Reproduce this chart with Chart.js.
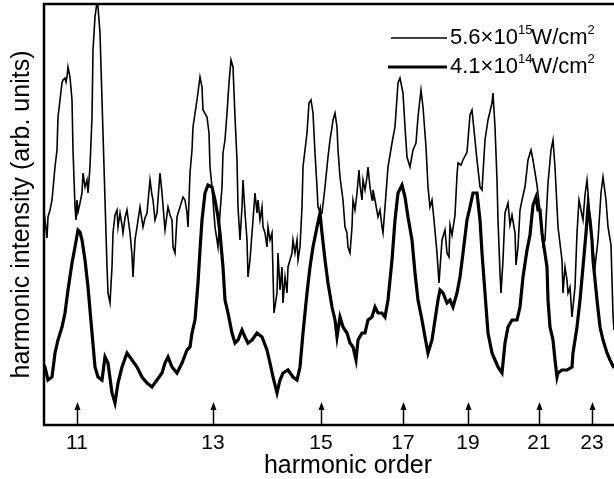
<!DOCTYPE html>
<html lang="en">
<head>
    <meta charset="UTF-8">
    <title>Harmonic spectra</title>
    <script src="https://cdn.jsdelivr.net/npm/chart.js"></script>
    <style>
        html, body {
            margin: 0;
            padding: 0;
            overflow: hidden;
            background: #fff;
        }
        #wrap {
            width: 660px;
            height: 479px;
        }
    </style>
</head>
<body>
    <div id="wrap">
        <canvas id="hhgChart" width="660" height="479"></canvas>
    </div>

    <script>
        // harmonic markers (position along the spectrometer axis, arb. units)
        const harmonicPos = [33, 169, 277, 359, 424, 495, 548];
        const harmonicLabels = ["11", "13", "15", "17", "19", "21", "23"];

        // 5.6x10^15 W/cm^2 (thin trace)
        const highX = [0,1,3,4,6,8,11,13,14,16,18,19,21,22,23,24,26,28,29,31,32,33,34,36,38,39,41,43,44,46,48,49,51,53,54,56,58,61,63,64,66,68,69,71,73,74,76,78,79,81,83,86,88,89,91,93,96,99,101,103,106,108,109,111,113,116,118,121,124,126,128,129,131,133,136,139,141,143,144,146,148,149,153,156,158,159,163,165,166,168,171,174,176,178,179,181,183,185,187,189,191,193,194,196,198,199,201,203,204,206,208,211,213,214,216,218,219,221,223,224,226,228,230,233,234,236,238,239,241,243,244,246,248,249,251,253,254,256,258,259,263,265,267,269,271,273,274,276,278,281,283,284,286,288,289,291,293,294,296,299,301,303,304,306,308,309,311,313,315,316,318,319,321,323,324,326,328,329,331,334,336,338,339,341,344,348,351,354,356,359,361,363,366,369,372,374,377,379,382,384,386,388,390,393,395,398,401,403,405,406,408,411,413,414,417,419,423,426,428,430,433,436,438,441,444,448,449,451,453,454,456,457,459,461,464,466,468,471,472,474,476,478,481,484,487,489,493,496,499,501,504,507,509,511,514,518,519,521,523,524,526,528,531,533,535,538,539,541,543,545,548,551,554,557,559,562,564,567,569,570];
        const highY = [200,205,187,208,215,225,258,275,308,325,342,345,347,343,348,358,348,325,275,218,205,225,213,222,232,252,238,245,232,258,308,375,408,423,418,392,325,225,158,132,122,158,192,210,215,198,212,200,192,207,215,192,170,148,185,198,218,198,207,212,245,230,225,205,212,252,232,195,218,210,205,178,172,208,218,228,225,212,198,252,275,298,325,348,338,315,308,292,258,238,198,178,212,238,272,285,312,342,365,358,308,265,218,185,218,245,212,185,148,165,192,232,212,225,205,218,198,192,178,198,185,192,112,132,172,135,158,122,148,132,158,165,172,185,172,185,165,178,218,258,292,322,325,312,272,238,218,213,212,238,258,268,285,298,305,312,298,275,248,225,198,192,178,172,198,225,215,232,255,240,225,245,235,248,258,238,225,235,225,208,215,198,192,218,258,282,298,342,347,332,298,268,258,275,282,308,335,318,278,238,218,225,205,172,142,185,195,172,168,200,190,210,250,262,260,265,273,310,315,295,265,238,235,285,305,322,332,298,245,205,152,132,165,212,222,200,210,192,160,178,215,225,238,265,275,265,240,215,180,185,242,275,285,258,198,165,132,158,145,132,138,108,138,192,225,210,205,230,245,220,185,158,185,232,248,225,198,180,110,95];

        // 4.1x10^14 W/cm^2 (thick trace)
        const lowX = [0,1,4,8,11,14,18,21,24,28,31,34,36,38,41,44,48,51,54,58,61,64,68,71,74,78,83,88,93,98,103,108,113,118,121,124,128,133,138,143,146,148,151,154,156,158,161,164,168,171,174,176,179,181,184,188,191,194,198,201,204,208,213,218,223,226,229,233,236,239,244,249,253,256,259,263,266,269,273,276,278,281,284,288,291,293,296,299,303,306,309,312,314,318,321,324,328,331,334,338,341,344,348,351,354,358,361,364,368,371,374,378,381,384,388,391,394,396,399,403,406,409,413,416,419,423,426,429,433,436,438,441,444,448,451,454,458,461,464,468,473,476,479,483,486,489,492,494,496,498,500,503,504,506,509,511,513,514,518,523,528,529,533,536,539,542,544,546,548,549,553,556,559,563,566,570];
        const lowY = [60,58,45,48,72,85,98,112,135,162,178,195,193,185,165,138,92,58,48,45,68,62,32,22,42,58,72,65,58,48,42,38,45,52,62,68,58,52,62,75,78,92,105,142,175,205,232,240,238,225,208,192,158,125,112,92,82,85,95,88,82,85,92,88,75,62,48,32,45,52,55,48,45,58,92,132,158,178,198,212,192,165,142,118,105,88,108,98,92,82,78,65,85,92,92,105,108,118,112,112,108,125,165,205,232,240,228,208,185,152,125,105,88,72,85,105,125,135,132,122,125,118,132,148,172,205,218,232,232,205,172,132,92,72,65,58,52,82,98,105,105,118,148,175,190,220,228,215,215,192,178,158,125,98,85,65,48,52,55,55,58,72,98,125,158,192,218,205,185,165,125,98,85,72,65,57];

        const toPoints = (xs, ys) => xs.map((x, i) => ({ x: x, y: ys[i] }));

        const framePlugin = {
            id: "frame",
            afterDatasetsDraw(chart) {
                const { ctx, chartArea } = chart;
                const xs = chart.scales.x;
                ctx.save();
                ctx.strokeStyle = "#000";
                ctx.lineWidth = 2.5;
                ctx.strokeRect(chartArea.left, chartArea.top, chartArea.right - chartArea.left, chartArea.bottom - chartArea.top);

                // small arrows marking the harmonic positions
                ctx.lineWidth = 1.5;
                ctx.fillStyle = "#000";
                harmonicPos.forEach(v => {
                    const px = Math.round(xs.getPixelForValue(v)) + 0.5;
                    ctx.beginPath();
                    ctx.moveTo(px, chartArea.bottom);
                    ctx.lineTo(px, chartArea.bottom - 17);
                    ctx.stroke();
                    ctx.beginPath();
                    ctx.moveTo(px, chartArea.bottom - 23);
                    ctx.lineTo(px - 3, chartArea.bottom - 15);
                    ctx.lineTo(px + 3, chartArea.bottom - 15);
                    ctx.closePath();
                    ctx.fill();
                });
                ctx.restore();
            }
        };

        const legendPlugin = {
            id: "customLegend",
            afterDraw(chart) {
                const ctx = chart.ctx;
                const entries = [
                    { base: "5.6\u00d710", exp: "15", width: 1.5, y: 38, x0: 391 },
                    { base: "4.1\u00d710", exp: "14", width: 3, y: 67, x0: 388 }
                ];
                ctx.save();
                ctx.fillStyle = "#000";
                ctx.strokeStyle = "#000";
                entries.forEach(e => {
                    ctx.lineWidth = e.width;
                    ctx.beginPath();
                    ctx.moveTo(e.x0, e.y);
                    ctx.lineTo(447, e.y);
                    ctx.stroke();

                    let x = 450;
                    ctx.textBaseline = "middle";
                    ctx.font = "22px 'Liberation Sans', Arial, sans-serif";
                    ctx.fillText(e.base, x, e.y);
                    x += ctx.measureText(e.base).width;
                    ctx.font = "13px 'Liberation Sans', Arial, sans-serif";
                    ctx.fillText(e.exp, x, e.y - 8);
                    x += ctx.measureText(e.exp).width - 1;
                    ctx.font = "22px 'Liberation Sans', Arial, sans-serif";
                    ctx.fillText("W/cm", x, e.y);
                    x += ctx.measureText("W/cm").width;
                    ctx.font = "13px 'Liberation Sans', Arial, sans-serif";
                    ctx.fillText("2", x, e.y - 8);
                });
                ctx.restore();
            }
        };

        Chart.defaults.font.family = "'Liberation Sans', Arial, sans-serif";
        Chart.defaults.color = "#000";

        const chart = new Chart(document.getElementById("hhgChart"), {
            type: "line",
            data: {
                datasets: [
                    {
                        label: "5.6\u00d710\u00b9\u2075W/cm\u00b2",
                        data: toPoints(highX, highY),
                        borderColor: "#000",
                        borderWidth: 1.6,
                        pointRadius: 0,
                        tension: 0,
                        fill: false
                    },
                    {
                        label: "4.1\u00d710\u00b9\u2074W/cm\u00b2",
                        data: toPoints(lowX, lowY),
                        borderColor: "#000",
                        borderWidth: 3.2,
                        pointRadius: 0,
                        tension: 0,
                        fill: false
                    }
                ]
            },
            options: {
                responsive: false,
                animation: false,
                layout: { padding: { top: 4, right: 8, left: 0, bottom: 0 } },
                plugins: {
                    legend: { display: false },
                    tooltip: { enabled: false }
                },
                scales: {
                    x: {
                        type: "linear",
                        min: 0,
                        max: 608,
                        grid: { display: false, drawTicks: false },
                        border: { display: false },
                        afterBuildTicks: scale => {
                            scale.ticks = harmonicPos.map(v => ({ value: v }));
                        },
                        afterFit: scale => { scale.height = 54; },
                        ticks: {
                            autoSkip: false,
                            maxRotation: 0,
                            padding: 6,
                            font: { size: 21 },
                            callback: (value, index) => harmonicLabels[index]
                        },
                        title: {
                            display: true,
                            text: "harmonic order",
                            font: { size: 25, lineHeight: 1.0 },
                            padding: { top: 0, bottom: 0 }
                        }
                    },
                    y: {
                        min: 0,
                        max: 421,
                        grid: { display: false, drawTicks: false },
                        border: { display: false },
                        ticks: { display: false },
                        afterFit: scale => { scale.width = 44; },
                        title: {
                            display: true,
                            text: "harmonic intensity (arb. units)",
                            font: { size: 25, lineHeight: 1.2 },
                            padding: { top: 7, bottom: 0 }
                        }
                    }
                }
            },
            plugins: [framePlugin, legendPlugin]
        });
    </script>
</body>
</html>
